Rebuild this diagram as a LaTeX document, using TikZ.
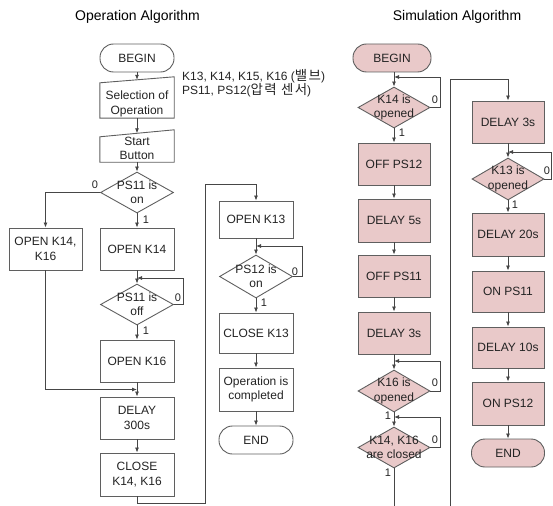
\documentclass[tikz,border=0pt]{standalone}
\usepackage{fontspec}
\setmainfont{Liberation Sans}
\newfontfamily\krfont[Scale=1.12,LetterSpace=10]{Noto Sans CJK KR}
\usetikzlibrary{shapes.geometric,arrows.meta,calc}
\definecolor{linegray}{RGB}{70,70,70}
\definecolor{boxgray}{RGB}{95,95,95}
\definecolor{simpink}{RGB}{233,201,201}
\definecolor{inkgray}{RGB}{35,35,35}
\tikzset{
  base/.style={draw=boxgray, line width=0.9pt, text=inkgray,
    font=\fontsize{12}{14.4}\selectfont, align=center, inner sep=0pt},
  procbox/.style={base, rectangle, minimum width=74pt, minimum height=42pt},
  termbox/.style={base, rectangle, rounded corners=13.5pt, minimum width=74pt, minimum height=28pt},
  decbox/.style={base, diamond, minimum width=73pt, minimum height=41pt},
  simbox/.style={procbox, fill=simpink, minimum width=72pt},
  simdec/.style={decbox, fill=simpink, minimum width=72pt},
  blank/.style={inner sep=0pt, minimum width=74pt},
  shapeline/.style={draw=boxgray, line width=0.9pt},
  boxtext/.style={text=inkgray, font=\fontsize{12}{14.4}\selectfont, align=center, inner sep=0pt},
  flow/.style={draw=linegray, line width=0.8pt, -{Latex[length=5pt,width=4pt]}},
  branch/.style={font=\fontsize{11}{13}\selectfont, text=inkgray, inner sep=0pt},
  heading/.style={font=\fontsize{14}{16}\selectfont, text=black, inner sep=0pt},
  note/.style={font=\fontsize{12}{13}\selectfont, text=inkgray, align=left, inner sep=0pt, anchor=west},
}
\begin{document}
\begin{tikzpicture}[x=1pt,y=-1pt]
\useasboundingbox (0,0) rectangle (553,505);
\clip (0,0) rectangle (553,505);

% ---------- headings ----------
\node[heading] (t1) at (137.5,16.5) {Operation Algorithm};
\node[heading] (t2) at (457,17) {Simulation Algorithm};

% ---------- operation algorithm ----------
\node[termbox] (b1) at (137,58) {BEGIN};

\node[blank, minimum height=35pt] (sel) at (137,100.5) {};
\draw[shapeline] (sel.south west) -- (sel.north west) -- ([yshift=6pt]sel.north east) -- (sel.south east) -- cycle;
\node[boxtext] (selt) at (137,104) {Selection of\\Operation};

\node[blank, minimum height=25pt] (st) at (137,149.5) {};
\draw[shapeline] (st.south west) -- (st.north west) -- ([yshift=7pt]st.north east) -- (st.south east) -- cycle;
\node[boxtext] (stt) at (137,148.5) {Start\\Button};

\node[note] (valves) at (182,83) {K13, K14, K15, K16 ({\krfont 밸브})\\PS11, PS12({\krfont 압력 센서})};

\node[decbox] (d1) at (137,192.5) {};
\node[boxtext] at (d1) {PS11 is\\on};
\node[procbox] (k14) at (137,249) {OPEN K14};
\node[procbox, minimum width=73pt] (k1416) at (45.5,249) {OPEN K14,\\K16};
\node[decbox] (d2) at (137,304.5) {};
\node[boxtext] at (d2) {PS11 is\\off};
\node[procbox] (k16) at (137,361) {OPEN K16};
\node[procbox] (dl300) at (137,418) {DELAY\\300s};
\node[procbox, minimum height=43pt] (c1416) at (137,474.5) {CLOSE\\K14, K16};

\node[procbox, minimum height=37pt] (k13) at (256,219.5) {OPEN K13};
\node[decbox, minimum height=43pt] (d3) at (256,276.5) {};
\node[boxtext] at (d3) {PS12 is\\on};
\node[procbox, minimum height=40pt] (c13) at (256,333) {CLOSE K13};
\node[procbox, minimum height=43pt] (done) at (256,389.5) {Operation is\\completed};
\node[termbox] (e1) at (256,440) {END};

% connectors
\draw[flow] (b1.south) -- ([yshift=3pt]sel.north);
\draw[flow] (sel.south) -- ([yshift=3.5pt]st.north);
\draw[flow] (st.south) -- (d1.north);
\draw[flow] (d1.west) -| (k1416.north);
\node[branch] at (95,185) {0};
\draw[flow] (d1.south) -- (k14.north);
\node[branch] at (146,220) {1};
\draw[flow] (k14.south) -- (d2.north);
\coordinate (d2loop) at (183,278);
\draw[flow] (d2.east) -| (d2loop) -- (d2loop -| d2.north);
\node[branch] at (178,298) {0};
\draw[flow] (d2.south) -- (k16.north);
\node[branch] at (146,331) {1};
\draw[flow] (k16.south) -- (dl300.north);
\draw[flow] (k1416.south) |- ($(k16.south)!0.5!(dl300.north)$);
\draw[flow] (dl300.south) -- (c1416.north);
\coordinate (lb) at (205,503);
\coordinate (lt) at (205,184);
\draw[flow] (c1416.south) |- (lb) -- (lt) -| (k13.north);
\draw[flow] (k13.south) -- (d3.north);
\coordinate (d3loop) at (302,246);
\draw[flow] (d3.east) -| (d3loop) -- (d3loop -| d3.north);
\node[branch] at (295,272) {0};
\draw[flow] (d3.south) -- (c13.north);
\node[branch] at (264,303) {1};
\draw[flow] (c13.south) -- (done.north);
\draw[flow] (done.south) -- (e1.north);

% ---------- simulation algorithm ----------
\node[termbox, fill=simpink, minimum width=78pt] (b2) at (392,58) {BEGIN};
\node[simdec] (dk14) at (394,107.5) {};
\node[boxtext] at (dk14) {K14 is\\opened};
\node[simbox] (offps12) at (394,164) {OFF PS12};
\node[simbox, minimum height=43pt] (dly5) at (394,220.5) {DELAY 5s};
\node[simbox] (offps11) at (394,276) {OFF PS11};
\node[simbox] (dly3a) at (394,333) {DELAY 3s};
\node[simdec, minimum height=42pt] (dk16) at (394,391) {};
\node[boxtext] at (dk16) {K16 is\\opened};
\node[simdec] (dk1416) at (394,447.5) {};
\node[boxtext] at (dk1416) {K14, K16\\are closed};

\node[simbox] (dly3b) at (508,122) {DELAY 3s};
\node[simdec, minimum height=42pt] (dk13) at (508,179) {};
\node[boxtext] at (dk13) {K13 is\\opened};
\node[simbox, minimum height=43pt] (dly20) at (508,234.5) {DELAY 20s};
\node[simbox, minimum height=41pt] (onps11) at (508,291.5) {ON PS11};
\node[simbox, minimum height=41pt] (dly10) at (508,347.5) {DELAY 10s};
\node[simbox, minimum height=43pt] (onps12) at (508,403.5) {ON PS12};
\node[termbox, fill=simpink, minimum width=73pt] (e2) at (508,453) {END};

% connectors
\draw[flow] (b2.south -| dk14.north) -- (dk14.north);
\coordinate (k14loop) at (440,77);
\draw[flow] (dk14.east) -| (k14loop) -- (k14loop -| dk14.north);
\node[branch] at (435,100) {0};
\draw[flow] (dk14.south) -- (offps12.north);
\node[branch] at (402,133) {1};
\draw[flow] (offps12.south) -- (dly5.north);
\draw[flow] (dly5.south) -- (offps11.north);
\draw[flow] (offps11.south) -- (dly3a.north);
\draw[flow] (dly3a.south) -- (dk16.north);
\coordinate (k16loop) at (440,361);
\draw[flow] (dk16.east) -| (k16loop) -- (k16loop -| dk16.north);
\node[branch] at (435,383) {0};
\draw[flow] (dk16.south) -- (dk1416.north);
\node[branch] at (388,416) {1};
\coordinate (k1416loop) at (440,417);
\draw[flow] (dk1416.east) -| (k1416loop) -- (k1416loop -| dk1416.north);
\node[branch] at (435,440) {0};
\node[branch] at (388,473) {1};
\coordinate (rb) at (394,520);
\coordinate (rt) at (450,79);
\draw[flow] (dk1416.south) -- (rb) -- (rb -| rt) -- (rt) -| (dly3b.north);
\draw[flow] (dly3b.south) -- (dk13.north);
\coordinate (k13loop) at (551.5,152);
\draw[flow] (dk13.east) -| (k13loop) -- (k13loop -| dk13.north);
\node[branch] at (547,171) {0};
\draw[flow] (dk13.south) -- (dly20.north);
\node[branch] at (515,205) {1};
\draw[flow] (dly20.south) -- (onps11.north);
\draw[flow] (onps11.south) -- (dly10.north);
\draw[flow] (dly10.south) -- (onps12.north);
\draw[flow] (onps12.south) -- (e2.north);
\end{tikzpicture}
\end{document}
